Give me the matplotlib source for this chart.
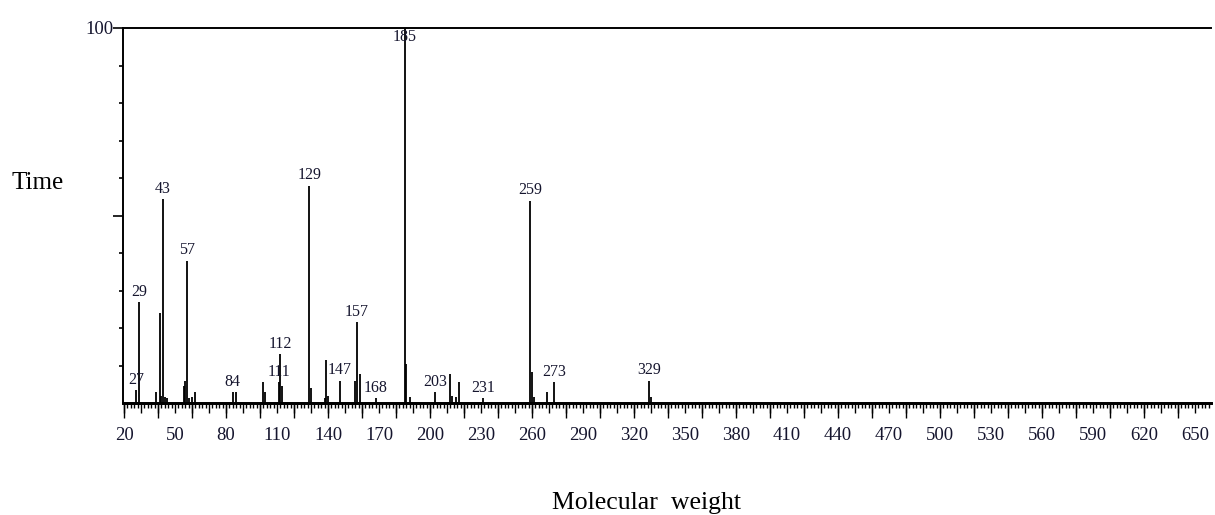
import matplotlib.pyplot as plt
from matplotlib.ticker import FixedLocator, FixedFormatter

# peaks: m/z and relative intensity (%)
mz = [27, 29, 39, 41, 42, 43, 44, 45, 55, 56, 57, 58, 60, 62,
      84, 86, 102, 103, 111, 112, 113, 129, 130, 138, 139, 140, 147,
      156, 157, 159, 168, 185, 186, 188, 203, 212, 213, 215, 217, 231,
      259, 260, 261, 269, 273, 329, 330]
intensity = [3.5, 27, 3, 24, 2, 54.5, 1.5, 1.3, 4.5, 6, 38, 1.3, 1.5, 3,
             3, 3, 5.6, 3, 5.5, 13, 4.5, 58, 4, 1.3, 11.5, 2, 6,
             6, 21.6, 7.7, 1.4, 100, 10.4, 1.5, 3, 7.7, 2, 1.5, 5.6, 1.3,
             54, 8.3, 1.5, 3, 5.6, 6, 1.5]
labelled = [27, 29, 43, 57, 84, 111, 112, 129, 147, 157, 168, 185,
            203, 231, 259, 273, 329]

x_labels = list(range(20, 651, 30))
serif = ['Liberation Serif', 'DejaVu Serif']
ink = '#15152e'

fig = plt.figure(figsize=(12.15, 5.15), dpi=100)
ax = fig.add_axes([123 / 1215, (515 - 403) / 515, (1211 - 123) / 1215, (403 - 28) / 515])

ax.vlines(mz, 0, intensity, color='black', lw=1.3)

heights = dict(zip(mz, intensity))
for m in labelled:
    h = heights[m]
    if h >= 99:
        # base peak: label sits just under the 100% line
        ax.annotate(str(m), xy=(m, h), xytext=(0, -1), textcoords='offset points',
                    ha='center', va='top', fontsize=11.5, family=serif, color=ink)
    else:
        ax.annotate(str(m), xy=(m, h), xytext=(0, 1.5), textcoords='offset points',
                    ha='center', va='bottom', fontsize=11.5, family=serif, color=ink)

ax.set_xlim(19.4, 659.4)
ax.set_ylim(0, 100)

ax.spines['right'].set_visible(False)
ax.spines['top'].set_linewidth(1.4)
ax.spines['left'].set_linewidth(1.4)
ax.spines['bottom'].set_linewidth(2)

# x ticks: minor every 2, medium every 10, long every 20
ticks10 = list(range(20, 660, 10))
ax.xaxis.set_major_locator(FixedLocator(ticks10))
ax.xaxis.set_major_formatter(FixedFormatter([str(t) if t in x_labels else '' for t in ticks10]))
ax.xaxis.set_minor_locator(FixedLocator(list(range(20, 660, 2))))
ax.tick_params(axis='x', which='major', direction='out', length=7.5, width=1.0,
               pad=9.5, labelsize=13.5, colors='black', labelcolor=ink)
ax.tick_params(axis='x', which='minor', direction='out', length=3.8, width=1.0)
for lab in ax.get_xticklabels():
    lab.set_family(serif)

sec = ax.secondary_xaxis('bottom')
sec.set_xticks(list(range(20, 660, 20)))
sec.tick_params(direction='out', length=11, width=1.0, labelbottom=False)
sec.spines['bottom'].set_linewidth(2)

# y ticks: only 100 labelled
ax.yaxis.set_major_locator(FixedLocator([50, 100]))
ax.yaxis.set_major_formatter(FixedFormatter(['', '100']))
ax.yaxis.set_minor_locator(FixedLocator([10, 20, 30, 40, 60, 70, 80, 90]))
ax.tick_params(axis='y', which='major', direction='out', length=7, width=1.2,
               pad=0, labelsize=13.5, labelcolor=ink)
ax.tick_params(axis='y', which='minor', direction='out', length=3, width=1.2)
for lab in ax.get_yticklabels():
    lab.set_family(serif)

fig.text(11 / 1215, (515 - 183) / 515, 'Time', fontsize=18, family=serif,
         ha='left', va='center')
fig.text(646 / 1215, 6 / 515, 'Molecular  weight', fontsize=18.5, family=serif,
         ha='center', va='baseline')

fig.savefig('out.png', dpi=100)
